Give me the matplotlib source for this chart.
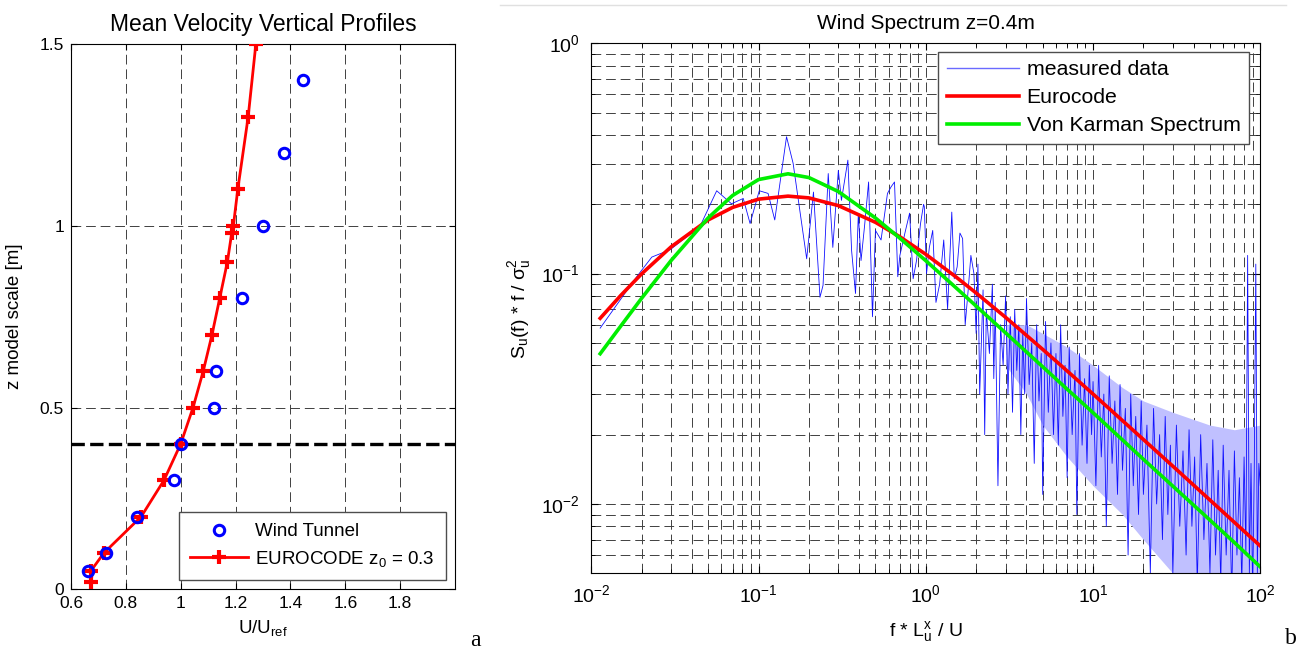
import matplotlib
matplotlib.use('Agg')
import matplotlib.pyplot as plt
from matplotlib.lines import Line2D
from matplotlib.ticker import NullFormatter

plt.rcParams['font.family'] = ['Liberation Sans', 'DejaVu Sans']
plt.rcParams['mathtext.fontset'] = 'custom'
plt.rcParams['mathtext.rm'] = 'Liberation Sans'
plt.rcParams['mathtext.it'] = 'Liberation Sans'
plt.rcParams['mathtext.default'] = 'regular'

# ---- panel a: mean velocity profiles ----
tunnel_u = [1.447, 1.376, 1.301, 1.224, 1.128, 1.122, 1.001, 0.974, 0.840, 0.726, 0.662]
tunnel_z = [1.40, 1.20, 1.00, 0.80, 0.60, 0.50, 0.40, 0.30, 0.20, 0.10, 0.05]

euro_u = [1.274, 1.246, 1.208, 1.192, 1.186, 1.170, 1.142, 1.114, 1.082, 1.045, 1.000, 0.939, 0.856, 0.720, 0.672, 0.672]
euro_z = [1.50, 1.30, 1.10, 1.00, 0.98, 0.90, 0.80, 0.70, 0.60, 0.50, 0.40, 0.30, 0.20, 0.10, 0.05, 0.02]

z_ref = 0.4

# ---- panel b: wind spectrum ----
measured_f = [0.0113, 0.0187, 0.023, 0.0296, 0.0446, 0.0562, 0.0689, 0.081, 0.089, 0.101,
              0.114, 0.125, 0.147, 0.161, 0.194, 0.213, 0.233, 0.243, 0.261, 0.278,
              0.30, 0.313, 0.342, 0.36, 0.38, 0.395, 0.41, 0.43, 0.455, 0.48,
              0.50, 0.54, 0.59, 0.62, 0.65, 0.68, 0.70, 0.75, 0.80, 0.84,
              0.88, 0.93, 0.97, 0.98, 1.01, 1.05, 1.1, 1.15, 1.21, 1.28,
              1.35, 1.43, 1.48, 1.54, 1.60, 1.66, 1.72, 1.79, 1.86, 1.94,
              2.0, 2.05, 2.1, 2.2, 2.25, 2.3, 2.4, 2.5, 2.55, 2.6,
              2.7, 2.8, 2.9, 3.0, 3.1, 3.2, 3.3, 3.4, 3.5, 3.6,
              3.7, 3.8, 3.9, 4.0, 4.15, 4.3, 4.45, 4.6, 4.75, 4.9,
              5.0, 5.2, 5.4, 5.6, 5.8, 6.0, 6.2, 6.4, 6.6, 6.8,
              7.0, 7.2, 7.5, 7.8, 8.0, 8.3, 8.6, 8.9, 9.2, 9.5,
              9.8, 10.0, 10.4, 10.8, 11.2, 11.6, 12.0, 12.5, 13.0, 13.5,
              14.0, 14.5, 15.0, 15.6, 16.2, 16.8, 17.4, 18.0, 18.7, 19.4,
              20, 21, 22, 23, 24, 25, 26, 27, 28, 29,
              30, 31.5, 33, 34.5, 36, 37.5, 39, 40.5, 42, 44,
              46, 48, 50, 52, 54, 56, 58, 60, 62.5, 65,
              67.5, 70, 72.5, 75, 77.5, 80, 82, 84, 86, 88,
              90, 92, 94, 96, 98, 100]
measured_S = [0.058, 0.097, 0.118, 0.127, 0.160, 0.229, 0.201, 0.212, 0.165, 0.229,
              0.223, 0.171, 0.393, 0.301, 0.116, 0.226, 0.079, 0.089, 0.272, 0.130,
              0.281, 0.208, 0.311, 0.126, 0.082, 0.182, 0.114, 0.160, 0.250, 0.065,
              0.154, 0.140, 0.223, 0.238, 0.250, 0.097, 0.120, 0.150, 0.183, 0.095,
              0.114, 0.165, 0.200, 0.195, 0.100, 0.130, 0.154, 0.075, 0.090, 0.140,
              0.070, 0.185, 0.095, 0.107, 0.150, 0.142, 0.060, 0.084, 0.120, 0.100,
              0.055, 0.11, 0.03, 0.085, 0.02, 0.07, 0.045, 0.09, 0.035, 0.075,
              0.012, 0.06, 0.04, 0.08, 0.03, 0.065, 0.025, 0.07, 0.038, 0.06,
              0.02, 0.055, 0.03, 0.078, 0.033, 0.05, 0.015, 0.06, 0.028, 0.045,
              0.011, 0.062, 0.025, 0.05, 0.02, 0.045, 0.018, 0.06, 0.024, 0.04,
              0.013, 0.048, 0.02, 0.038, 0.009, 0.045, 0.018, 0.035, 0.015, 0.04,
              0.02, 0.034, 0.012, 0.04, 0.016, 0.03, 0.008, 0.036, 0.015, 0.028,
              0.011, 0.033, 0.014, 0.026, 0.006, 0.03, 0.012, 0.024, 0.009, 0.028,
              0.011, 0.022, 0.005, 0.026, 0.01, 0.02, 0.007, 0.024, 0.009, 0.018,
              0.005, 0.022, 0.008, 0.017, 0.006, 0.021, 0.008, 0.016, 0.0045, 0.02,
              0.007, 0.015, 0.005, 0.019, 0.006, 0.014, 0.0045, 0.018, 0.006, 0.014,
              0.004, 0.017, 0.006, 0.013, 0.0045, 0.016, 0.006, 0.12, 0.005, 0.015,
              0.004, 0.014, 0.11, 0.005, 0.015, 0.012]

# spread of the dense part of the measured spectrum
band_f = [3, 4, 5, 7, 10, 15, 20, 30, 50, 70, 100]
band_hi = [0.06, 0.06, 0.055, 0.048, 0.04, 0.032, 0.028, 0.025, 0.022, 0.021, 0.022]
band_lo = [0.04, 0.03, 0.022, 0.016, 0.012, 0.009, 0.007, 0.005, 0.004, 0.004, 0.004]

curve_f = [0.0113, 0.015, 0.02, 0.03, 0.05, 0.07, 0.1, 0.15, 0.2, 0.3, 0.5, 0.7,
           1, 1.5, 2, 3, 5, 7, 10, 20, 30, 50, 70, 100]
eurocode_S = [0.0640, 0.0804, 0.0998, 0.1307, 0.1711, 0.1939, 0.2106, 0.217, 0.2132, 0.1974,
              0.1670, 0.1445, 0.1213, 0.0973, 0.0824, 0.0646, 0.0469, 0.0378, 0.0300,
              0.01905, 0.01459, 0.0104, 0.00832, 0.00657]
karman_S = [0.0449, 0.0592, 0.0782, 0.1140, 0.1746, 0.2185, 0.2561, 0.2713, 0.2613, 0.2272,
            0.1744, 0.1425, 0.1138, 0.0874, 0.0723, 0.0553, 0.0394, 0.0315, 0.0249,
            0.01563, 0.01195, 0.00851, 0.0068, 0.00533]

W, H = 1309, 649
fig = plt.figure(figsize=(W / 100, H / 100), dpi=100)

grid_kw = dict(color='0.25', linestyle=(0, (10, 5)), linewidth=0.7)

# 图 a
ax1 = fig.add_axes([71 / W, (H - 589.3) / H, 384 / W, 545.3 / H])
ax1.set_xlim(0.6, 2.0)
ax1.set_ylim(0, 1.5)
ax1.set_xticks([0.6, 0.8, 1.0, 1.2, 1.4, 1.6, 1.8])
ax1.set_xticklabels(['0.6', '0.8', '1', '1.2', '1.4', '1.6', '1.8'])
ax1.set_yticks([0, 0.5, 1.0, 1.5])
ax1.set_yticklabels(['0', '0.5', '1', '1.5'])
ax1.grid(True, **grid_kw)
ax1.set_axisbelow(True)
ax1.axhline(z_ref, color='black', linestyle=(0, (4, 1.6)), linewidth=2.4, zorder=2)
ax1.plot(tunnel_u, tunnel_z, linestyle='none', marker='o', markersize=7.5,
         markerfacecolor='none', markeredgecolor='blue', markeredgewidth=2.2,
         label='Wind Tunnel', zorder=4)
ax1.plot(euro_u, euro_z, color='red', linewidth=2, marker='+', markersize=10,
         markeredgewidth=3, label=r'EUROCODE $z_0$ = 0.3', zorder=3)
ax1.tick_params(direction='in', top=True, right=True, labelsize=12.5, length=4, pad=5)
ax1.set_title('Mean Velocity Vertical Profiles', fontsize=16.5, pad=9)
ax1.set_xlabel(r'U/U$_{ref}$', fontsize=13.5, labelpad=5)
ax1.set_ylabel('z model scale [m]', fontsize=13.5, labelpad=12)
leg1 = ax1.legend(loc='lower right', bbox_to_anchor=(0.977, 0.017), borderaxespad=0,
                  fontsize=13.5, handlelength=3.1, handletextpad=0.4,
                  labelspacing=0.45, borderpad=0.6, fancybox=False, framealpha=1)
leg1.get_frame().set_edgecolor('0.3')
leg1.get_frame().set_linewidth(1)

# 图 b
ax2 = fig.add_axes([591.3 / W, (H - 573.3) / H, 669 / W, 530 / H])
ax2.set_xscale('log')
ax2.set_yscale('log')
ax2.fill_between(band_f, band_lo, band_hi, color='#c0c0ff', linewidth=0, zorder=1)
ax2.plot(measured_f, measured_S, color='#1010ff', linewidth=0.6, label='measured data', zorder=2)
ax2.plot(curve_f, eurocode_S, color='red', linewidth=2.6, label='Eurocode', zorder=3)
ax2.plot(curve_f, karman_S, color='#00ee00', linewidth=2.6, label='Von Karman Spectrum', zorder=3)
ax2.set_xlim(0.01, 100)
ax2.set_ylim(0.005, 1)
ax2.yaxis.set_minor_formatter(NullFormatter())
ax2.xaxis.set_minor_formatter(NullFormatter())
ax2.grid(True, which='both', **grid_kw)
ax2.set_axisbelow(True)
ax2.tick_params(which='both', direction='in', top=True, right=True)
ax2.tick_params(which='major', labelsize=14, length=5, pad=8)
ax2.tick_params(which='minor', length=3)
ax2.set_title('Wind Spectrum z=0.4m', fontsize=15, pad=10)
ax2.set_xlabel(r'f * $L_u^x$ / U', fontsize=14, labelpad=9)
ax2.set_ylabel(r'S$_u$(f) * f / $\sigma_u^2$', fontsize=14, labelpad=6)
leg2 = ax2.legend(loc='upper right', bbox_to_anchor=(0.983, 0.984), borderaxespad=0,
                  fontsize=15.3, handlelength=3.4, handletextpad=0.35,
                  labelspacing=0.42, borderpad=0.4, fancybox=False, framealpha=1)
leg2.get_frame().set_edgecolor('0.3')
leg2.get_frame().set_linewidth(1)
leg2.get_lines()[0].set_color('#6a6aff')
leg2.get_lines()[0].set_linewidth(1)

# 页面元素
fig.add_artist(Line2D([500 / W, 1286 / W], [1 - 5 / H, 1 - 5 / H], color='0.88', linewidth=1))
fig.text(475 / W, 1 - 640 / H, 'a', family='Liberation Serif', fontsize=17, ha='center', va='center')
fig.text(1291 / W, 1 - 638 / H, 'b', family='Liberation Serif', fontsize=17, ha='center', va='center')

plt.savefig('out.png', dpi=100)
